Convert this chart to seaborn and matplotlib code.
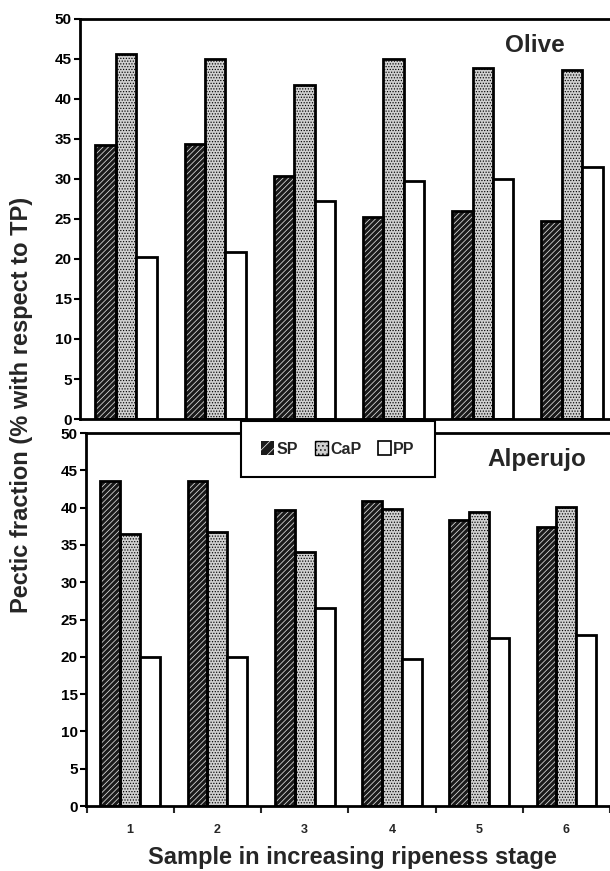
import matplotlib
matplotlib.use("Agg")
import matplotlib.pyplot as plt
from matplotlib.patches import Rectangle, Patch
import numpy as np
import pandas as pd
import seaborn as sns

samples = ["1", "2", "3", "4", "5", "6"]
fractions = ["SP", "CaP", "PP"]
olive_sp = [34.2, 34.4, 30.4, 25.2, 26.0, 24.8]
olive_cap = [45.6, 45.0, 41.7, 45.0, 43.9, 43.6]
olive_pp = [20.2, 20.9, 27.2, 29.7, 30.0, 31.5]
alp_sp = [43.6, 43.6, 39.7, 40.9, 38.4, 37.4]
alp_cap = [36.5, 36.7, 34.1, 39.8, 39.4, 40.1]
alp_pp = [20.0, 20.0, 26.6, 19.7, 22.5, 22.9]
yticks = list(range(0, 55, 5))

sns.set_style("ticks")
plt.rcParams["font.family"] = ["Liberation Sans", "DejaVu Sans"]
plt.rcParams["font.weight"] = "bold"
plt.rcParams["hatch.linewidth"] = 0.55

W, H = 610, 871
fig = plt.figure(figsize=(W / 100, H / 100), dpi=100)
fig.patch.set_facecolor("white")


def make_df(sp, cap, pp):
    rows = []
    for name, vals in zip(fractions, [sp, cap, pp]):
        for s, v in zip(samples, vals):
            rows.append({"sample": s, "fraction": name, "value": v})
    return pd.DataFrame(rows)


palette = {"SP": "#1a1a1a", "CaP": "#d0d0d0", "PP": "white"}


def draw(ax, df, xlim):
    sns.barplot(data=df, x="sample", y="value", hue="fraction", order=samples,
                hue_order=fractions, palette=palette, width=0.685, gap=0,
                edgecolor="black", linewidth=2, saturation=1, errorbar=None,
                legend=False, ax=ax)
    for ci, cont in enumerate(ax.containers):
        for p in cont.patches:
            if ci == 0:
                p.set_hatch("//////")
                p.set_edgecolor("#e0e0e0")
                p.set_linewidth(0)
                ax.add_patch(Rectangle(p.get_xy(), p.get_width(), p.get_height(),
                                       fill=False, ec="black", lw=2,
                                       zorder=p.get_zorder() + 0.1))
            elif ci == 1:
                p.set_hatch("......")
                p.set_edgecolor("black")
    ax.set_xlim(*xlim)
    ax.set_ylim(0, 50)
    ax.set_yticks(yticks)
    ax.set_xlabel("")
    ax.set_ylabel("")
    ax.spines["right"].set_visible(False)
    for s in ["left", "bottom", "top"]:
        ax.spines[s].set_linewidth(2)
        ax.spines[s].set_color("black")
    ax.tick_params(axis="y", length=4, width=1.5, labelsize=11, pad=2,
                   colors="black")
    for t in ax.get_yticklabels():
        t.set_fontweight("bold")


ax1 = fig.add_axes([80 / W, 1 - 419 / H, 530 / W, 400 / H])
draw(ax1, make_df(olive_sp, olive_cap, olive_pp), (-0.516, 5.426))
ax1.set_xticks([])

ax2 = fig.add_axes([86 / W, 1 - 806 / H, 524 / W, 373 / H])
draw(ax2, make_df(alp_sp, alp_cap, alp_pp), (-0.507, 5.394))
ax2.set_xticks(range(len(samples)))
ax2.set_xticklabels(samples, fontweight="bold")
ax2.tick_params(axis="x", which="major", length=0, labelsize=9, pad=13)
ax2.set_xticks(np.arange(-0.5, len(samples), 1.0), minor=True)
ax2.tick_params(axis="x", which="minor", length=5, width=1.5, direction="out")

fig.text(22 / W, 1 - 405 / H, "Pectic fraction (% with respect to TP)",
         rotation=90, ha="center", va="center", fontsize=17, fontweight="bold")
fig.text(352 / W, 1 - 857 / H, "Sample in increasing ripeness stage",
         ha="center", va="center", fontsize=17, fontweight="bold")
fig.text(535 / W, 1 - 46 / H, "Olive", ha="center", va="center",
         fontsize=17.5, fontweight="bold")
fig.text(537 / W, 1 - 459 / H, "Alperujo", ha="center", va="center",
         fontsize=17.5, fontweight="bold")

handles = [
    Patch(facecolor="#1a1a1a", edgecolor="#e0e0e0", hatch="///", lw=0),
    Patch(facecolor="#d0d0d0", edgecolor="black", hatch="....", lw=1),
    Patch(facecolor="white", edgecolor="black", lw=1.2),
]
leg = fig.legend(handles, fractions, loc="center",
                 bbox_to_anchor=(338 / W, 1 - 449 / H), ncol=3,
                 frameon=True, fancybox=False, framealpha=1,
                 edgecolor="black", handlelength=0.8, handleheight=0.9,
                 handletextpad=0.15, columnspacing=1.05, borderpad=1.25,
                 prop={"weight": "bold", "size": 11.5})
leg.get_frame().set_linewidth(1.5)

fig.savefig("out.png", dpi=100)
